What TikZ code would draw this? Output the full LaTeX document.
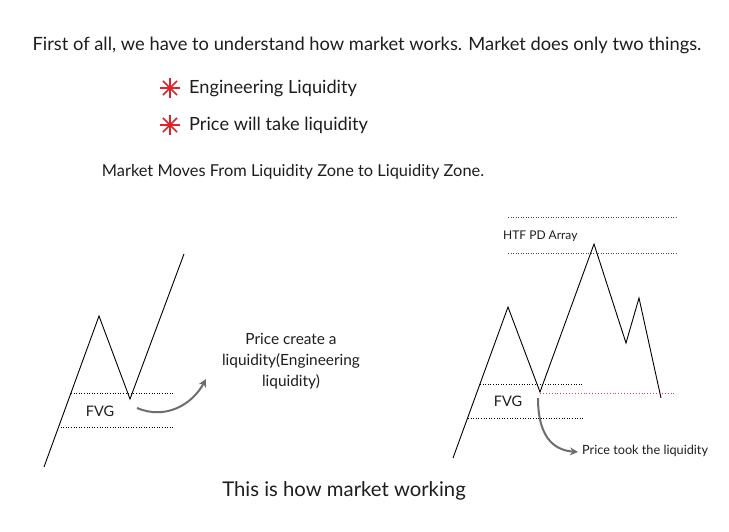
\documentclass[tikz,border=0pt]{standalone}
\usepackage{fontspec}
\setmainfont{Lato}
\usetikzlibrary{arrows.meta,calc}
\definecolor{astred}{RGB}{225,35,40}
\definecolor{liqred}{RGB}{220,60,90}
\definecolor{arrgray}{RGB}{110,110,110}
\definecolor{txt}{RGB}{30,30,30}
\tikzset{
  price/.style={draw=black, line width=0.9pt, line join=miter},
  lvl/.style={draw=black, line width=0.6pt, dotted},
  lvlthin/.style={draw=black!70, line width=0.5pt, dotted},
  liq/.style={draw=liqred, line width=0.9pt, dotted},
  curvearr/.style={draw=arrgray, line width=2pt, -{Stealth[length=8pt,width=8pt]}},
  lbl/.style={inner sep=0pt, text=txt},
}
\begin{document}
\begin{tikzpicture}[x=1pt,y=-1pt]
\useasboundingbox[fill=white] (0,0) rectangle (729,532);
% header texts
\node[lbl, font=\fontsize{18.3}{20}\selectfont] (head) at (367,45) {First of all, we have to understand how market works. Market does only two things.};
\coordinate (s1) at (170,88);
\coordinate (s2) at (170,125);
\foreach \a in {0,45,90,135} {\draw[astred, line width=1.5pt] ($(s1)+(\a:10)$) -- ($(s1)+(\a+180:10)$);}
\foreach \a in {0,45,90,135} {\draw[astred, line width=1.5pt] ($(s2)+(\a:10)$) -- ($(s2)+(\a+180:10)$);}
\node[lbl, anchor=west, font=\fontsize{18.2}{20}\selectfont] (b1) at (189,88) {Engineering Liquidity};
\node[lbl, anchor=west, font=\fontsize{18.2}{20}\selectfont] (b2) at (189,125) {Price will take liquidity};
\node[lbl, font=\fontsize{16.4}{18}\selectfont] (moves) at (293,172) {Market Moves From Liquidity Zone to Liquidity Zone.};
\node[lbl, font=\fontsize{20.3}{22}\selectfont] (foot) at (344,491) {This is how market working};

% left chart
\coordinate (L0) at (44,467);
\coordinate (L1) at (99,316);
\coordinate (L2) at (130,399);
\coordinate (L3) at (184,254);
\draw[price] (L0) -- (L1) -- (L2) -- (L3);
\coordinate (lu1) at (71,393); \coordinate (lu2) at (173,393);
\coordinate (ll1) at (58,427); \coordinate (ll2) at (173,427);
\draw[lvl] (lu1) -- (lu2);
\draw[lvl] (ll1) -- (ll2);
\node[lbl, font=\fontsize{14.5}{16}\selectfont] (fvgL) at (100,411) {FVG};
\coordinate (la1) at (137,408);
\coordinate (la2) at (206,379);
\draw[curvearr] (la1) .. controls (165,420) and (192,405) .. (la2);
\node[lbl, align=center, font=\fontsize{15.4}{21}\selectfont] (create) at (291,361) {Price create a\\liquidity(Engineering\\liquidity)};

% right chart
\coordinate (R0) at (453,458);
\coordinate (R1) at (508,307);
\coordinate (R2) at (540,392);
\coordinate (R3) at (594,244);
\coordinate (R4) at (626,343);
\coordinate (R5) at (639,298);
\coordinate (R6) at (661,398);
\draw[price] (R0) -- (R1) -- (R2) -- (R3) -- (R4) -- (R5) -- (R6);
\coordinate (h1a) at (508,217); \coordinate (h1b) at (676,217);
\coordinate (h2a) at (508,253); \coordinate (h2b) at (676,253);
\draw[lvlthin] (h1a) -- (h1b);
\draw[lvlthin] (h2a) -- (h2b);
\node[lbl, anchor=west, font=\fontsize{12}{13}\selectfont] (htf) at (503,236) {HTF PD Array};
\coordinate (ru1) at (480,384); \coordinate (ru2) at (583,384);
\coordinate (rl1) at (468,418); \coordinate (rl2) at (583,418);
\draw[lvl] (ru1) -- (ru2);
\draw[lvl] (rl1) -- (rl2);
\coordinate (rr1) at (540,393); \coordinate (rr2) at (676,393);
\draw[liq] (rr1) -- (rr2);
\node[lbl, font=\fontsize{14.5}{16}\selectfont] (fvgR) at (508,401) {FVG};
\coordinate (ra1) at (538,398);
\coordinate (ra2) at (578,452);
\draw[curvearr] (ra1) .. controls (538,435) and (552,450) .. (ra2);
\node[lbl, anchor=west, font=\fontsize{12.7}{14}\selectfont] (took) at (582,451) {Price took the liquidity};
\end{tikzpicture}
\end{document}
